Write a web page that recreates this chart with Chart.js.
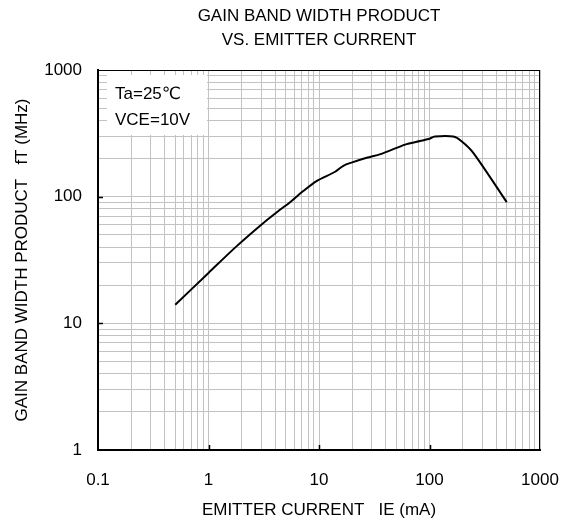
<!DOCTYPE html>
<html>
<head>
<meta charset="utf-8">
<script src="https://cdn.jsdelivr.net/npm/chart.js@4/dist/chart.umd.min.js"></script>
<style>
html,body{margin:0;padding:0;background:#fff;}
#wrap{width:562px;height:525px;}
</style>
</head>
<body>
<div id="wrap"><canvas id="c" width="562" height="525"></canvas></div>
<script>
const titleLines = ['GAIN BAND WIDTH PRODUCT', 'VS. EMITTER CURRENT'];
const xTitle = 'EMITTER CURRENT   IE (mA)';
const yTitle = 'GAIN BAND WIDTH PRODUCT   fT (MHz)';
const noteLines = ['Ta=25\u2103', 'VCE=10V'];
const xTickLabels = [0.1, 1, 10, 100, 1000];
const yTickLabels = [1, 10, 100, 1000];
const emitterCurrent = [0.5, 1, 1.8, 3.1, 4.4, 5.4, 7.2, 9.5, 14, 16.6, 20, 27, 36, 49, 62, 82, 98, 112, 164, 195, 250, 500];
const gainBandwidth = [14, 25, 40.7, 61.5, 78.4, 89.6, 110.7, 132.8, 157.3, 175.4, 186.6, 202.9, 216.8, 240.5, 260, 275, 285, 298, 298, 274, 221, 90.5];

const FONT = '"Liberation Sans", Arial, "DejaVu Sans", sans-serif';
const FS = 17;

function logTicks(min, max) {
  const out = [];
  for (let e = Math.round(Math.log10(min)); e < Math.round(Math.log10(max)); e++) {
    for (let m = 1; m <= 9; m++) out.push({value: +(m * Math.pow(10, e)).toPrecision(6)});
  }
  out.push({value: max});
  return out;
}
function isMajor(v, list) { return list.some(t => Math.abs(t - v) / t < 1e-6); }

const framePlugin = {
  id: 'frame',
  beforeDatasetsDraw(chart) {
    const {ctx, chartArea: a} = chart;
    ctx.save();
    ctx.fillStyle = '#fff';
    ctx.fillRect(a.left + 9, a.top + 5, 100, 60);
    ctx.fillStyle = '#000';
    ctx.font = FS + 'px ' + FONT;
    ctx.textAlign = 'left';
    ctx.textBaseline = 'middle';
    ctx.fillText(noteLines[0], a.left + 17, a.top + 24);
    ctx.fillText(noteLines[1], a.left + 17, a.top + 50);
    ctx.restore();
  },
  afterDraw(chart) {
    const {ctx, chartArea: a, scales} = chart;
    ctx.save();
    ctx.strokeStyle = '#000';
    ctx.lineWidth = 1;
    ctx.beginPath();
    ctx.moveTo(a.left, a.top + 0.5); ctx.lineTo(a.right, a.top + 0.5);
    ctx.moveTo(a.right - 0.5, a.top); ctx.lineTo(a.right - 0.5, a.bottom);
    ctx.stroke();
    ctx.lineWidth = 1.5;
    ctx.beginPath();
    xTickLabels.slice(1, -1).forEach(v => {
      const x = Math.round(scales.x.getPixelForValue(v)) + 0.5;
      ctx.moveTo(x, a.bottom); ctx.lineTo(x, a.bottom - 5);
    });
    yTickLabels.slice(1, -1).forEach(v => {
      const y = Math.round(scales.y.getPixelForValue(v)) + 0.5;
      ctx.moveTo(a.left, y); ctx.lineTo(a.left + 5, y);
    });
    ctx.stroke();
    ctx.fillStyle = '#000';
    ctx.font = FS + 'px ' + FONT;
    ctx.textAlign = 'center';
    ctx.textBaseline = 'middle';
    const cx = (a.left + a.right) / 2;
    ctx.fillText(titleLines[0], cx, 16);
    ctx.fillText(titleLines[1], cx, 40);
    ctx.restore();
  }
};

new Chart(document.getElementById('c'), {
  type: 'line',
  data: {
    datasets: [{
      data: emitterCurrent.map((x, i) => ({x, y: gainBandwidth[i]})),
      borderColor: '#000',
      borderWidth: 2,
      pointRadius: 0,
      tension: 0.3,
      fill: false
    }]
  },
  options: {
    responsive: false,
    animation: false,
    devicePixelRatio: 1,
    layout: {padding: {top: 70, right: 22, left: 0, bottom: 0}},
    plugins: {legend: {display: false}, tooltip: {enabled: false}},
    scales: {
      x: {
        type: 'logarithmic',
        min: 0.1, max: 1000,
        afterBuildTicks: s => { s.ticks = logTicks(0.1, 1000); },
        afterFit: s => { s.height = 75; s.paddingLeft = 0; s.paddingRight = 0; },
        grid: {color: '#c2c2c2', lineWidth: 1, drawTicks: false},
        border: {display: true, color: '#000', width: 2},
        ticks: {
          autoSkip: false, maxRotation: 0, padding: 20,
          color: '#000', font: {family: FONT, size: FS},
          callback: v => isMajor(v, xTickLabels) ? String(v) : ''
        },
        title: {display: true, text: xTitle, color: '#000', font: {family: FONT, size: FS}, padding: {top: 0, bottom: 4}}
      },
      y: {
        type: 'logarithmic',
        min: 1, max: 1000,
        afterBuildTicks: s => { s.ticks = logTicks(1, 1000); },
        afterFit: s => { s.width = 98; s.paddingTop = 0; s.paddingBottom = 0; },
        grid: {color: '#c2c2c2', lineWidth: 1, drawTicks: false},
        border: {display: true, color: '#000', width: 2},
        ticks: {
          autoSkip: false, padding: 16,
          color: '#000', font: {family: FONT, size: FS},
          callback: v => isMajor(v, yTickLabels) ? String(v) : ''
        },
        title: {display: true, text: yTitle, color: '#000', font: {family: FONT, size: FS}, padding: {top: 12, bottom: 0}}
      }
    }
  },
  plugins: [framePlugin]
});
</script>
</body>
</html>
